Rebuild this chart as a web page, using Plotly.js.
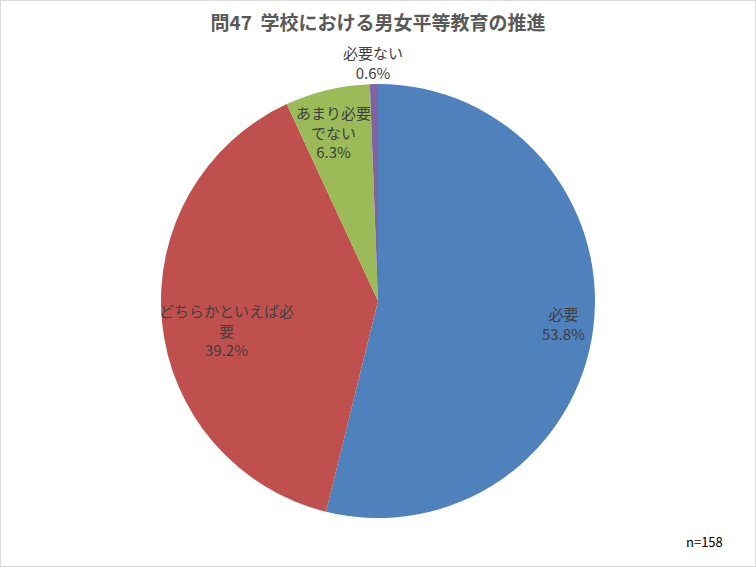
<!DOCTYPE html>
<html>
<head>
<meta charset="utf-8">
<script src="https://cdn.plot.ly/plotly-3.0.1.min.js"></script>
<style>
  body { margin: 0; background: #fff; }
  #chart { width: 754px; height: 565px; border: 1px solid #d9d9d9; }
</style>
</head>
<body>
<div id="chart"></div>
<script>
// 問47 学校における男女平等教育の推進 (n=158)
var categories = ['必要', 'どちらかといえば必要', 'あまり必要でない', '必要ない'];
var labelLines = ['必要', 'どちらかといえば必<br>要', 'あまり必要<br>でない', '必要ない'];
var percents = [53.8, 39.2, 6.3, 0.6];
var colors = ['#4F81BD', '#C0504D', '#9BBB59', '#8064A2'];

// position des étiquettes (fraction du rayon + petit décalage), à la Excel
var labelRadius = [0.86, 0.70, 0.80, 1.10];
var labelShift = [[0, 0], [0, -14], [-4, 0], [0, 0]];

var W = 754, H = 565;
var cx = 377, cy = 300, R = 217;

var trace = {
  type: 'pie',
  labels: categories,
  values: percents,
  sort: false,
  direction: 'clockwise',
  rotation: 0,
  marker: { colors: colors, line: { width: 0 } },
  textinfo: 'none',
  hoverinfo: 'label+percent',
  showlegend: false,
  domain: { x: [(cx - R) / W, (cx + R) / W], y: [1 - (cy + R) / H, 1 - (cy - R) / H] }
};

// étiquettes : milieu angulaire de chaque part
var total = percents.reduce(function (a, b) { return a + b; }, 0);
var annotations = [];
var cum = 0;
for (var i = 0; i < percents.length; i++) {
  var mid = (cum + percents[i] / 2) / total * 2 * Math.PI;
  cum += percents[i];
  var px = cx + Math.sin(mid) * R * labelRadius[i];
  var py = cy - Math.cos(mid) * R * labelRadius[i];
  annotations.push({
    x: px / W, y: 1 - py / H, xref: 'paper', yref: 'paper',
    xanchor: 'center', yanchor: 'middle',
    xshift: labelShift[i][0], yshift: labelShift[i][1],
    text: labelLines[i] + '<br>' + percents[i].toFixed(1) + '%',
    showarrow: false, align: 'center',
    font: { size: 15, color: '#404040', family: 'Noto Sans CJK JP, sans-serif' }
  });
}

annotations.push({
  x: 724 / W, y: 1 - 540 / H, xref: 'paper', yref: 'paper',
  xanchor: 'right', yanchor: 'middle',
  text: 'n=158', showarrow: false,
  font: { size: 13, color: '#000', family: 'Noto Sans CJK JP, sans-serif' }
});

var layout = {
  width: W, height: H,
  margin: { l: 0, r: 0, t: 0, b: 0 },
  paper_bgcolor: '#fff',
  title: {
    text: '<b>問47  学校における男女平等教育の推進</b>',
    x: 0.5, xanchor: 'center', y: 1 - 22 / H, yanchor: 'middle',
    font: { size: 19, color: '#595959', family: 'Noto Sans CJK JP, sans-serif' }
  },
  annotations: annotations
};

Plotly.newPlot('chart', [trace], layout, { displayModeBar: false, staticPlot: true });
</script>
</body>
</html>
